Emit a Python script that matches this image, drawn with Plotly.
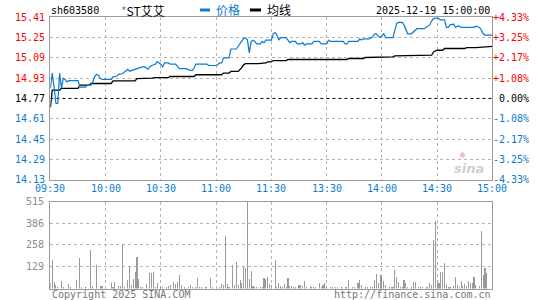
import plotly.graph_objects as go

W, H = 545, 300
PREV_CLOSE = 14.77

# minute index (0 = 09:30, 120 = 11:30/13:00, 240 = 15:00)
price_min = [0, 1, 2, 3, 4, 5, 6, 7, 8, 9, 10, 15, 16, 19, 20, 22, 23, 24, 25, 26, 27, 28, 33, 34, 36, 37, 39, 40,
             41, 42, 43, 44, 45, 47, 49, 51, 52, 53, 54, 55, 57, 58, 59, 60, 61, 62, 64, 65, 68, 69, 70, 74, 75,
             77, 78, 79, 85, 86, 90, 91, 92, 93, 94, 97, 98, 101, 102, 103, 104, 105, 106, 107, 108, 109, 110,
             111, 112, 114, 115, 116, 117, 120, 121, 122, 123, 124, 125, 128, 129, 130, 131, 133, 134, 136, 137,
             138, 139, 142, 143, 146, 147, 150, 151, 152, 159, 160, 161, 162, 167, 168, 169, 170, 173, 175, 176,
             177, 178, 179, 181, 182, 186, 187, 188, 189, 191, 192, 193, 194, 196, 197, 198, 199, 203, 204, 206,
             207, 208, 210, 211, 212, 214, 215, 216, 217, 219, 220, 221, 222, 223, 230, 231, 233, 234, 235, 236,
             240]
price = [14.85, 14.97, 14.86, 14.73, 14.73, 14.97, 14.85, 14.93, 14.92, 14.90, 14.91, 14.91, 14.86, 14.86,
         14.875, 14.875, 14.90, 14.94, 14.96, 14.955, 14.93, 14.92, 14.92, 14.94, 14.945, 14.96, 14.965, 14.975,
         14.99, 15.00, 14.985, 14.99, 15.00, 15.01, 15.015, 15.02, 15.01, 15.00, 15.02, 15.03, 15.04, 15.06,
         15.05, 15.04, 15.02, 15.05, 15.05, 15.04, 15.04, 15.02, 15.005, 15.005, 14.995, 14.99, 15.01, 15.04,
         15.04, 15.03, 15.03, 15.04, 15.05, 15.05, 15.09, 15.09, 15.16, 15.16, 15.18, 15.20, 15.22, 15.245,
         15.245, 15.23, 15.13, 15.22, 15.23, 15.22, 15.20, 15.20, 15.22, 15.21, 15.23, 15.23, 15.28, 15.29,
         15.27, 15.23, 15.25, 15.25, 15.23, 15.21, 15.22, 15.22, 15.20, 15.20, 15.21, 15.19, 15.20, 15.20,
         15.22, 15.22, 15.20, 15.20, 15.23, 15.22, 15.22, 15.20, 15.20, 15.22, 15.22, 15.24, 15.23, 15.24,
         15.24, 15.255, 15.28, 15.28, 15.26, 15.25, 15.28, 15.25, 15.25, 15.30, 15.36, 15.37, 15.37, 15.35,
         15.31, 15.28, 15.28, 15.295, 15.31, 15.32, 15.32, 15.33, 15.35, 15.38, 15.40, 15.405, 15.40, 15.39,
         15.39, 15.33, 15.33, 15.35, 15.355, 15.33, 15.34, 15.34, 15.33, 15.33, 15.34, 15.33, 15.31, 15.28,
         15.27, 15.27]

avg_min = [0, 1, 5, 6, 15, 16, 21, 22, 33, 34, 46, 47, 55, 57, 64, 65, 78, 79, 93, 94, 97, 98, 102, 103, 104,
           105, 106, 113, 117, 118, 120, 121, 128, 129, 161, 162, 170, 171, 176, 177, 186, 187, 192, 193, 207,
           208, 210, 213, 214, 225, 226, 231, 236, 240]
avg = [14.70, 14.836, 14.836, 14.849, 14.849, 14.875, 14.875, 14.888, 14.888, 14.909, 14.909, 14.927, 14.93,
       14.935, 14.935, 14.943, 14.943, 14.957, 14.957, 14.97, 14.97, 14.983, 14.983, 14.997, 15.015, 15.037,
       15.045, 15.045, 15.05, 15.058, 15.058, 15.069, 15.069, 15.077, 15.077, 15.085, 15.085, 15.093, 15.093,
       15.098, 15.098, 15.106, 15.106, 15.111, 15.111, 15.137, 15.15, 15.15, 15.164, 15.164, 15.171, 15.171,
       15.176, 15.18]

vol_min = [0, 1, 2, 3, 4, 6, 7, 10, 11, 14, 16, 17, 19, 22, 23, 25, 27, 28, 33, 34, 35, 37, 38, 39, 40, 42, 43,
           44, 45, 46, 47, 48, 49, 50, 52, 54, 55, 56, 57, 58, 60, 61, 63, 64, 65, 67, 68, 69, 70, 71, 73, 75, 76,
           77, 79, 80, 81, 82, 84, 85, 87, 88, 92, 93, 94, 95, 96, 97, 99, 100, 101, 102, 103, 104, 105, 106, 107,
           108, 109, 110, 111, 112, 114, 115, 116, 117, 118, 119, 120, 122, 123, 124, 125, 126, 127, 128, 129,
           130, 131, 132, 133, 135, 136, 137, 138, 139, 141, 142, 143, 144, 146, 147, 148, 149, 150, 152, 153,
           155, 156, 158, 160, 161, 162, 164, 165, 167, 168, 169, 171, 172, 174, 175, 176, 177, 178, 179, 180,
           181, 182, 184, 185, 186, 187, 188, 189, 190, 191, 192, 193, 194, 196, 197, 198, 200, 201, 202, 204,
           205, 206, 207, 208, 209, 210, 211, 212, 213, 214, 215, 216, 217, 219, 220, 221, 222, 223, 224, 225,
           226, 227, 228, 229, 230, 231, 233, 234, 235, 236, 237]
vol = [31, 166, 37, 21, 10, 42, 10, 25, 10, 48, 181, 6, 6, 225, 15, 137, 15, 15, 31, 6, 37, 15, 15, 260, 6, 48,
       135, 21, 56, 100, 187, 56, 6, 10, 27, 94, 90, 100, 10, 31, 15, 10, 10, 15, 21, 37, 27, 37, 79, 21, 10, 6,
       21, 6, 10, 62, 10, 6, 10, 10, 62, 6, 10, 25, 21, 312, 25, 10, 141, 21, 156, 21, 52, 31, 135, 119, 515,
       56, 104, 15, 10, 10, 10, 10, 62, 56, 69, 25, 21, 166, 10, 31, 15, 10, 27, 10, 62, 15, 15, 10, 6, 21, 21,
       17, 42, 10, 15, 10, 10, 10, 31, 10, 21, 31, 10, 10, 6, 6, 6, 10, 6, 10, 48, 6, 6, 31, 52, 21, 10, 10, 10,
       10, 52, 87, 31, 77, 73, 42, 21, 6, 6, 10, 110, 69, 37, 6, 10, 48, 31, 6, 10, 37, 37, 6, 6, 10, 6, 10, 31,
       21, 285, 400, 52, 31, 100, 100, 150, 21, 10, 10, 15, 69, 21, 10, 42, 15, 27, 15, 42, 31, 31, 69, 21, 15,
       340, 77, 119, 94]

price_ticks = [15.41, 15.25, 15.09, 14.93, 14.77, 14.61, 14.45, 14.29, 14.13]
pct_labels = ["+4.33%", "+3.25%", "+2.17%", "+1.08%", " 0.00%", "-1.08%", "-2.17%", "-3.25%", "-4.33%"]
time_ticks = [0, 30, 60, 90, 120, 150, 180, 210, 240]
time_labels = ["09:30", "10:00", "10:30", "11:00", "11:30", "13:30", "14:00", "14:30", "15:00"]
vol_ticks = [515, 386, 258, 129]

RED = "#ff0000"
BLUE = "#0a7bd0"
GRID = "#b4b4b4"
MONO = "DejaVu Sans Mono"
CJK = "Noto Sans CJK SC"

X0, X1 = 50.4, 492.4
P_TOP, P_BOT = 17.3, 179.6
V_TOP, V_BOT = 201.5, 288.5


def px(x):
    return x / W


def py(y):
    return 1 - y / H


fig = go.Figure()
fig.add_trace(go.Scatter(x=[time_ticks[0], time_ticks[-1]], y=[PREV_CLOSE, PREV_CLOSE], mode="lines",
                         line=dict(color="black", width=1, dash="3px,3px"), hoverinfo="skip"))
fig.add_trace(go.Scatter(x=avg_min, y=avg, mode="lines", line=dict(color="black", width=1.3)))
fig.add_trace(go.Scatter(x=price_min, y=price, mode="lines", line=dict(color=BLUE, width=1.2)))
fig.add_trace(go.Bar(x=vol_min, y=vol, width=0.6, marker=dict(color="#9a9a9a", line=dict(width=0)),
                     xaxis="x2", yaxis="y2"))

axis_common = dict(showline=True, mirror=True, linecolor="#9a9a9a", linewidth=1, zeroline=False,
                   showticklabels=False, ticks="", showgrid=True, gridcolor=GRID, griddash="dot", gridwidth=1,
                   fixedrange=True)

fig.update_layout(
    width=W, height=H, margin=dict(l=0, r=0, t=0, b=0),
    paper_bgcolor="white", plot_bgcolor="white", showlegend=False,
    xaxis=dict(domain=[px(X0), px(X1)], range=[0, 240], tickvals=time_ticks, anchor="y", **axis_common),
    yaxis=dict(domain=[py(P_BOT), py(P_TOP)], range=[price_ticks[-1], price_ticks[0]],
               tickvals=[t for t in price_ticks if t != PREV_CLOSE], anchor="x", **axis_common),
    xaxis2=dict(domain=[px(X0), px(X1)], range=[0, 240], tickvals=time_ticks, anchor="y2", **axis_common),
    yaxis2=dict(domain=[py(V_BOT), py(V_TOP)], range=[0, vol_ticks[0]], tickvals=vol_ticks, anchor="x2",
                **axis_common),
    bargap=0,
)

ann = []


def color_for(v):
    if abs(v - PREV_CLOSE) < 1e-9:
        return "black"
    return RED if v > PREV_CLOSE else BLUE


for v, pl in zip(price_ticks, pct_labels):
    c = color_for(v)
    ann.append(dict(xref="paper", yref="y", x=px(46.5), y=v, text=f"{v:.2f}", showarrow=False,
                    xanchor="right", yanchor="middle", font=dict(family=MONO, size=10, color=c)))
    ann.append(dict(xref="paper", yref="y", x=px(531), y=v, text=pl.replace(" ", "&nbsp;"), showarrow=False,
                    xanchor="right", yanchor="middle", font=dict(family=MONO, size=10, color=c)))

for t, lab in zip(time_ticks, time_labels):
    ann.append(dict(xref="x", yref="paper", x=t, y=py(188.5), text=lab, showarrow=False,
                    xanchor="center", yanchor="middle", font=dict(family=MONO, size=10, color=BLUE)))

for v in vol_ticks:
    ann.append(dict(xref="paper", yref="y2", x=px(46), y=v, text=str(v), showarrow=False,
                    xanchor="right", yanchor="middle", font=dict(family=MONO, size=10, color="#8c8c8c")))

# header
ann.append(dict(xref="paper", yref="paper", x=px(49), y=py(10.5), text="sh603580", showarrow=False,
                xanchor="left", yanchor="middle", font=dict(family=MONO, size=10, color="black")))
ann.append(dict(xref="paper", yref="paper", x=px(119), y=py(10.5),
                text="<span style='color:#888'>*</span>ST艾艾", showarrow=False,
                xanchor="left", yanchor="middle", font=dict(family=CJK, size=12, color="black")))
ann.append(dict(xref="paper", yref="paper", x=px(214), y=py(10), text="价格", showarrow=False,
                xanchor="left", yanchor="middle", font=dict(family=CJK, size=12, color=BLUE)))
ann.append(dict(xref="paper", yref="paper", x=px(265), y=py(10), text="均线", showarrow=False,
                xanchor="left", yanchor="middle", font=dict(family=CJK, size=12, color="black")))
ann.append(dict(xref="paper", yref="paper", x=px(491.5), y=py(10.5), text="2025-12-19 15:00:00",
                showarrow=False, xanchor="right", yanchor="middle",
                font=dict(family=MONO, size=10, color="black")))

# footer
ann.append(dict(xref="paper", yref="paper", x=px(49.5), y=py(294.5), text="Copyright 2025 SINA.COM",
                showarrow=False, xanchor="left", yanchor="middle", font=dict(family=MONO, size=10, color="#777")))
ann.append(dict(xref="paper", yref="paper", x=px(492.5), y=py(294.5), text="http://finance.sina.com.cn",
                showarrow=False, xanchor="right", yanchor="middle", font=dict(family=MONO, size=10, color="#777")))

# watermark
ann.append(dict(xref="paper", yref="paper", x=px(469), y=py(168), text="<b><i>sina</i></b>", showarrow=False,
                xanchor="center", yanchor="middle", font=dict(family="DejaVu Sans", size=13, color="#cfcfcf")))
ann.append(dict(xref="paper", yref="paper", x=px(462), y=py(154), text="◉", showarrow=False,
                xanchor="center", yanchor="middle", font=dict(family="DejaVu Sans", size=8, color="#f0b8b8")))

fig.update_layout(annotations=ann)

# legend swatches
fig.update_layout(shapes=[
    dict(type="rect", xref="paper", yref="paper", x0=px(200), x1=px(210), y0=py(11.5), y1=py(8.5),
         fillcolor=BLUE, line=dict(width=0)),
    dict(type="rect", xref="paper", yref="paper", x0=px(250), x1=px(261), y0=py(11.5), y1=py(8.5),
         fillcolor="black", line=dict(width=0)),
])

fig.write_html("out.html", config={"displayModeBar": False, "staticPlot": True})
